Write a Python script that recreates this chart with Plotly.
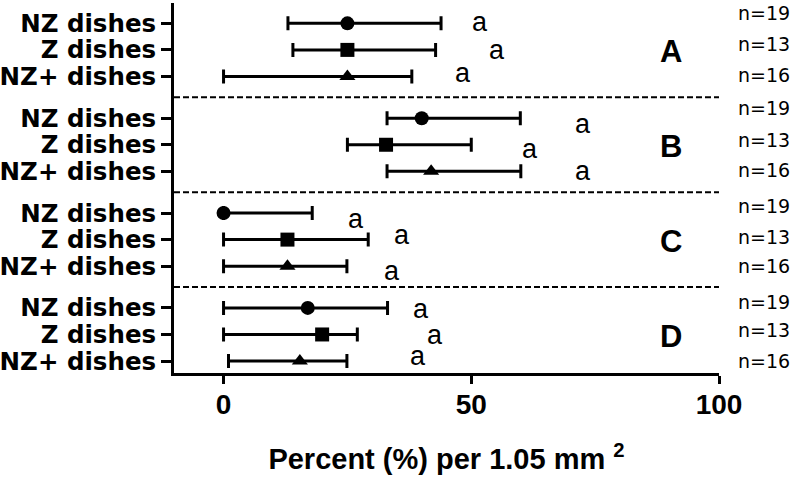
import plotly.graph_objects as go

# ---- data ----
groups = ["A", "B", "C", "D"]
row_labels = ["NZ dishes", "Z dishes", "NZ+ dishes"]
n_values = [19, 13, 16]

# mean and range (low / high) per group, rows ordered NZ, Z, NZ+
means_nz = [25.0, 40.0, 0.0, 17.0]
means_z = [25.0, 32.8, 12.9, 19.9]
means_nzp = [25.0, 41.9, 12.9, 15.4]

low_nz = [13.0, 33.0, 0.0, 0.0]
low_z = [14.0, 25.0, 0.0, 0.0]
low_nzp = [0.0, 33.0, 0.0, 1.0]

high_nz = [43.9, 59.9, 17.9, 33.1]
high_z = [42.8, 50.0, 29.2, 27.0]
high_nzp = [38.0, 60.0, 24.9, 24.9]

# significance letters
sig_text = "a"
sig_x = [51.8, 55.2, 48.4,
         72.5, 61.8, 72.5,
         26.7, 36.1, 34.0,
         39.9, 42.6, 39.2]

# ---- layout helpers ----
GROUP_STEP = 3.57
def ypos(g, r):
    return g * GROUP_STEP + r

sig_shift = [1, 0, 3, -6, -4, 0, -6, 5, -5, -1, -1, 5]
n_shift = [10, 6, 1, 10, 5, 1, 7, 3, 0, 6, 4, 0]

ARIAL = "Liberation Sans, Arial, sans-serif"
DEJAVU = "DejaVu Sans, sans-serif"

series = [
    (means_nz, low_nz, high_nz, "circle", 14),
    (means_z, low_z, high_z, "square", 14),
    (means_nzp, low_nzp, high_nzp, "triangle-up", 14),
]

fig = go.Figure()
for r, (m, lo, hi, sym, sz) in enumerate(series):
    ys = [ypos(g, r) for g in range(len(groups))]
    fig.add_trace(go.Scatter(
        x=m, y=ys, mode="markers",
        marker=dict(symbol=sym, size=sz, color="black"),
        error_x=dict(type="data", symmetric=False,
                     array=[h - v for h, v in zip(hi, m)],
                     arrayminus=[v - l for v, l in zip(m, lo)],
                     color="black", thickness=3, width=7),
        showlegend=False, hoverinfo="x+y",
    ))

tickvals, ticktext = [], []
for g in range(len(groups)):
    for r, lab in enumerate(row_labels):
        tickvals.append(ypos(g, r))
        ticktext.append(lab)

annotations = []
for g, letter in enumerate(groups):
    annotations.append(dict(x=90.4, y=ypos(g, 1), xref="x", yref="y", text=letter,
                            showarrow=False, yshift=-2,
                            font=dict(family=ARIAL, size=31, color="black", weight="bold")))
    for r in range(3):
        k = g * 3 + r
        annotations.append(dict(x=sig_x[k], y=ypos(g, r), xref="x", yref="y", text=sig_text,
                                showarrow=False, yshift=sig_shift[k],
                                font=dict(family=ARIAL, size=27, color="black")))
        annotations.append(dict(x=1.134, y=ypos(g, r), xref="paper", yref="y",
                                text="n=%d" % n_values[r], xanchor="right",
                                showarrow=False, yshift=n_shift[k],
                                font=dict(family=DEJAVU, size=19, color="black")))

shapes = []
for g in range(len(groups) - 1):
    ym = (ypos(g, 2) + ypos(g + 1, 0)) / 2
    shapes.append(dict(type="line", xref="x", yref="y", x0=-10, x1=100, y0=ym, y1=ym,
                       line=dict(color="black", width=2, dash="6px,3px")))

fig.update_layout(
    width=800, height=477,
    margin=dict(l=174, r=81, t=3, b=104),
    plot_bgcolor="white", paper_bgcolor="white",
    showlegend=False,
    annotations=annotations, shapes=shapes,
    xaxis=dict(range=[-10, 100], tickvals=[0, 50, 100], automargin=False,
               showline=True, linewidth=3, linecolor="black",
               ticks="outside", ticklen=8, tickwidth=3, tickcolor="black",
               ticklabelstandoff=-4,
               tickfont=dict(family=ARIAL, size=28, color="black", weight="bold"),
               showgrid=False, zeroline=False,
               title=dict(text="Percent (%) per 1.05 mm <sup>2</sup>", standoff=31,
                          font=dict(family=ARIAL, size=29, color="black", weight="bold"))),
    yaxis=dict(range=[13.16, -0.765], tickvals=tickvals, ticktext=ticktext, automargin=False,
               showline=True, linewidth=3, linecolor="black",
               ticks="outside", ticklen=10, tickwidth=3, tickcolor="black",
               tickfont=dict(family=DEJAVU, size=24.5, color="black", weight="bold"),
               showgrid=False, zeroline=False),
)

fig.write_html("out.html", config={"displayModeBar": False},
               post_script="document.body.style.margin='0';document.body.style.overflow='hidden';")
